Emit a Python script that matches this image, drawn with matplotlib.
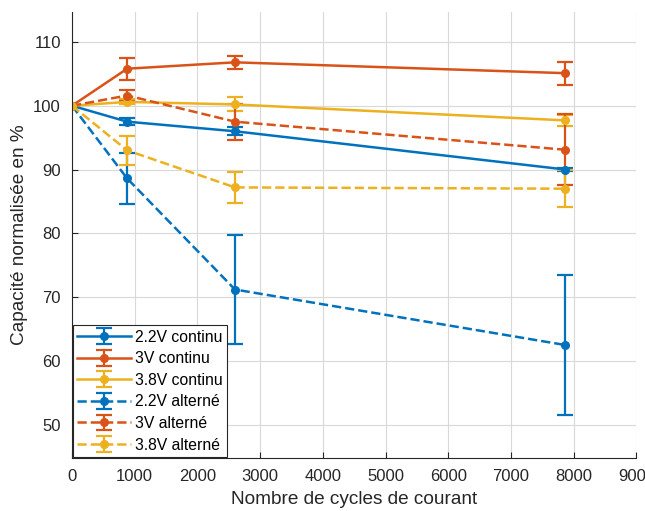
import matplotlib
matplotlib.use("Agg")
import matplotlib.pyplot as plt

cycles = [0, 880, 2600, 7870]

labels = ["2.2V continu", "3V continu", "3.8V continu",
          "2.2V alterné", "3V alterné", "3.8V alterné"]

v22_cont = [100, 97.5, 96.0, 90.0]
e22_cont = [0.0, 0.5, 0.6, 0.3]
v3_cont = [100, 105.8, 106.8, 105.1]
e3_cont = [0.0, 1.7, 1.0, 1.8]
v38_cont = [100, 100.6, 100.2, 97.7]
e38_cont = [0.0, 0.4, 1.1, 0.8]
v22_alt = [100, 88.6, 71.2, 62.5]
e22_alt = [0.0, 4.0, 8.6, 10.9]
v3_alt = [100, 101.6, 97.5, 93.1]
e3_alt = [0.0, 0.9, 2.8, 5.6]
v38_alt = [100, 93.0, 87.2, 87.0]
e38_alt = [0.0, 2.3, 2.4, 2.9]

series = [(v22_cont, e22_cont), (v3_cont, e3_cont), (v38_cont, e38_cont),
          (v22_alt, e22_alt), (v3_alt, e3_alt), (v38_alt, e38_alt)]
colors = ["#0072BD", "#D95319", "#EDB120"] * 2
styles = ["-", "-", "-", "--", "--", "--"]

plt.rcParams['font.family'] = ['Liberation Sans', 'DejaVu Sans']

fig = plt.figure(figsize=(6.45, 5.11), dpi=100)
ax = fig.add_axes([0.1116, 0.1037, 0.875, 0.873])

for (vals, errs), lab, c, ls in zip(series, labels, colors, styles):
    ax.errorbar(cycles, vals, yerr=errs, color=c, ls=ls, lw=1.8,
                marker='o', ms=5.5, mec=c, mfc=c,
                capsize=6, capthick=1.6, elinewidth=1.6, label=lab)

ax.set_xlim(0, 9000)
ax.set_ylim(44.8, 114.7)
ax.set_xticks(range(0, 9001, 1000))
ax.set_yticks(range(50, 111, 10))
ax.grid(True, color='#d9d9d9', lw=0.8)
ax.set_axisbelow(True)
ax.tick_params(direction='in', labelsize=12, colors='#262626', length=4)
ax.tick_params(axis='x', pad=8)
ax.tick_params(axis='y', pad=8)
for s in ['top', 'right']:
    ax.spines[s].set_visible(False)
for s in ['left', 'bottom']:
    ax.spines[s].set_color('#262626')
ax.set_xlabel("Nombre de cycles de courant", fontsize=13.7, color='#262626',
              labelpad=5)
ax.set_ylabel("Capacité normalisée en %", fontsize=13.7, color='#262626',
              labelpad=4)

leg = ax.legend(loc='lower left', fontsize=11.3, frameon=True, fancybox=False,
                edgecolor='#262626', framealpha=1, borderaxespad=0.05,
                handlelength=3.4, labelspacing=0.42, handletextpad=0.25,
                borderpad=0.3)
leg.get_frame().set_linewidth(0.8)

fig.savefig("out.png", dpi=100)
